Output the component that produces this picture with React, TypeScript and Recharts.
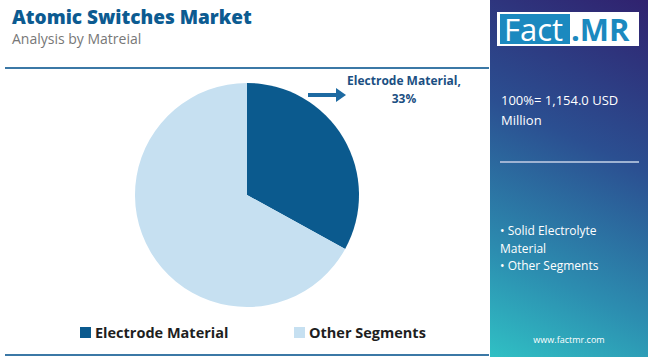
import React from 'react';
import { PieChart, Pie, Cell, Legend } from 'recharts';

// Share of market by material
const segments = ['Electrode Material', 'Other Segments'];
const shares = [33, 67];
const colors = ['#0b5a8e', '#c6e0f1'];

// Right panel text
const totalLabel = ['100%= 1,154.0 USD', 'Million'];
const panelItems = ['• Solid Electrolyte', 'Material', '• Other Segments'];

const data = segments.map((name, i) => ({ name, value: shares[i] }));

const font = "'Open Sans', 'Noto Sans', sans-serif";

// only the first slice gets the arrow callout
const renderLabel = (props: any) => {
    if (props.index !== 0) return null;
    const { cx, cy, name, value } = props;
    const ax = cx + 61;
    const ay = cy - 100;
    return (
        <g>
            <line x1={ax} y1={ay} x2={ax + 30} y2={ay} stroke="#1d6aa2" strokeWidth={4} />
            <polygon points={`${ax + 28},${ay - 7} ${ax + 38},${ay} ${ax + 28},${ay + 7}`} fill="#1d6aa2" />
            <text x={cx + 157} y={cy - 110} textAnchor="middle" fill="#1b4f82" fontSize={12} fontWeight={700} fontFamily={font}>
                {name},
            </text>
            <text x={cx + 157} y={cy - 92} textAnchor="middle" fill="#1b4f82" fontSize={12} fontWeight={700} fontFamily={font}>
                {value}%
            </text>
        </g>
    );
};

const renderLegend = (props: any) => {
    const { payload } = props;
    return (
        <div style={{ display: 'flex', fontFamily: font }}>
            {payload.map((entry: any, i: number) => (
                <div
                    key={`leg-${i}`}
                    style={{ display: 'flex', alignItems: 'center', marginLeft: i === 0 ? 80 : 0, width: 214, flexShrink: 0 }}
                >
                    <span style={{ width: 11, height: 11, background: entry.color, display: 'inline-block', marginRight: 4 }} />
                    <span style={{ fontSize: 14.5, fontWeight: 700, color: '#1e1e1e' }}>{entry.value}</span>
                </div>
            ))}
        </div>
    );
};

const App: React.FC = () => {
    return (
        <div style={{ position: 'fixed', left: 0, top: 0, width: 650, height: 357, background: '#fff', overflow: 'hidden', fontFamily: font }}>
            {/* Title */}
            <div style={{ position: 'absolute', left: 12, top: 4, fontSize: 19, fontWeight: 800, color: '#0c5b91' }}>
                Atomic Switches Market
            </div>
            <div style={{ position: 'absolute', left: 12, top: 29, fontSize: 14, color: '#777' }}>
                Analysis by Matreial
            </div>
            <div style={{ position: 'absolute', left: 5, top: 67, width: 484, height: 2, background: '#3b78a6' }} />
            <div style={{ position: 'absolute', left: 5, top: 354, width: 484, height: 2, background: '#3b78a6' }} />

            <PieChart width={490} height={357} style={{ position: 'absolute', left: 0, top: 0 }}>
                <Pie
                    data={data}
                    dataKey="value"
                    nameKey="name"
                    cx={242}
                    cy={190}
                    outerRadius={112}
                    startAngle={90}
                    endAngle={-270}
                    stroke="none"
                    label={renderLabel}
                    labelLine={false}
                    isAnimationActive={false}
                >
                    {data.map((entry, index) => (
                        <Cell key={`cell-${index}`} fill={colors[index]} />
                    ))}
                </Pie>
                <Legend
                    verticalAlign="bottom"
                    align="left"
                    content={renderLegend}
                    wrapperStyle={{ left: 0, bottom: 15, width: 490 }}
                />
            </PieChart>

            {/* Right panel */}
            <div
                style={{
                    position: 'absolute',
                    left: 490,
                    top: 0,
                    width: 158,
                    height: 357,
                    background: 'linear-gradient(205deg, #30226f 0%, #2b4f91 40%, #2c8db0 75%, #30c0c4 100%)',
                    color: '#fff',
                }}
            >
                <div style={{ position: 'absolute', left: 7, top: 12, width: 142, height: 34, background: '#fff' }}>
                    <div style={{ position: 'absolute', left: 3, top: 2, width: 70, height: 30, background: '#1b89bf' }} />
                    <div style={{ position: 'absolute', left: 7, top: -4, fontSize: 31, color: '#fff', fontWeight: 400 }}>Fact</div>
                    <div style={{ position: 'absolute', left: 74, top: -4, fontSize: 31, color: '#1b89bf', fontWeight: 700 }}>.MR</div>
                </div>
                <div style={{ position: 'absolute', left: 11, top: 90, fontSize: 13, lineHeight: '20px' }}>
                    {totalLabel.map((t, i) => (
                        <div key={i}>{t}</div>
                    ))}
                </div>
                <div style={{ position: 'absolute', left: 10, top: 161, width: 139, height: 2, background: '#9fb3d3' }} />
                <div style={{ position: 'absolute', left: 10, top: 222, fontSize: 12, lineHeight: '17.5px' }}>
                    {panelItems.map((t, i) => (
                        <div key={i}>{t}</div>
                    ))}
                </div>
                <div style={{ position: 'absolute', left: 0, width: 158, top: 333, fontSize: 9, textAlign: 'center' }}>
                    www.factmr.com
                </div>
            </div>
        </div>
    );
};

export default App;
